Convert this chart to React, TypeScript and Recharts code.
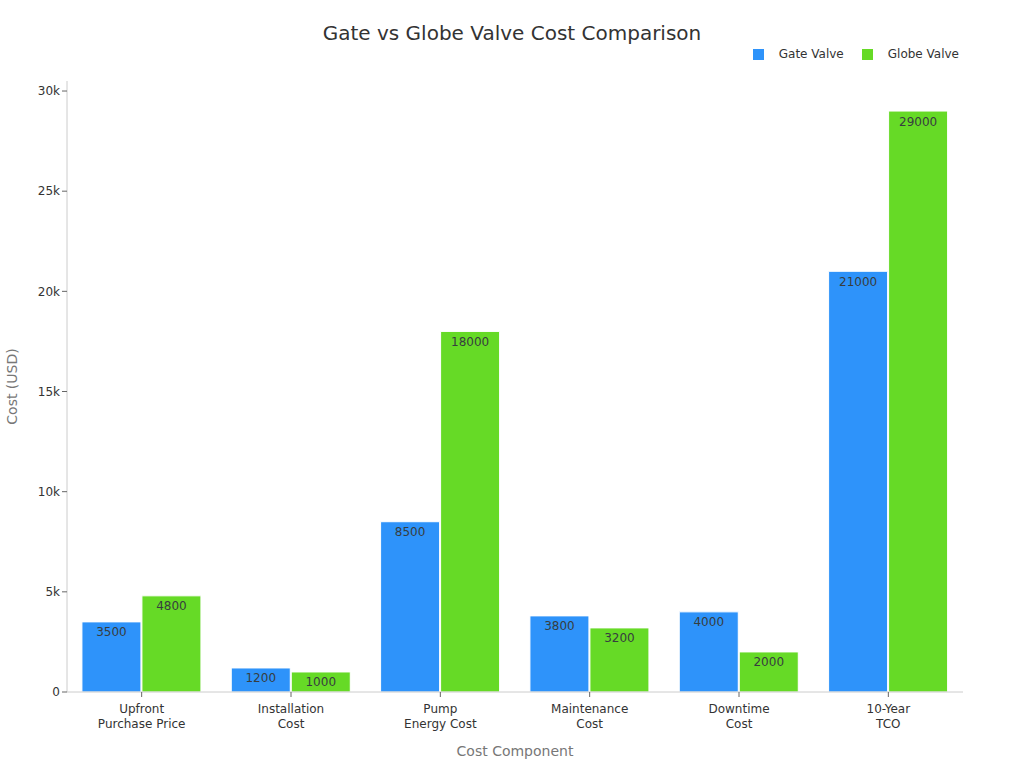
import React from 'react';
import { BarChart, Bar, XAxis, YAxis, Legend, LabelList, Label } from 'recharts';

const categories = ['Upfront\nPurchase Price', 'Installation\nCost', 'Pump\nEnergy Cost', 'Maintenance\nCost', 'Downtime\nCost', '10-Year\nTCO'];
const gateValve = [3500, 1200, 8500, 3800, 4000, 21000];
const globeValve = [4800, 1000, 18000, 3200, 2000, 29000];
const yTicks = [0, 5000, 10000, 15000, 20000, 25000, 30000];

const data = categories.map((c, i) => ({ name: c, gate: gateValve[i], globe: globeValve[i] }));

const FONT = '"DejaVu Sans", sans-serif';

const XTick = (props: any) => {
  const { x, y, payload } = props;
  const lines = String(payload.value).split('\n');
  return (
    <g transform={`translate(${x},${y})`}>
      <text textAnchor="middle" fill="#333" fontSize={12} fontFamily={FONT}>
        {lines.map((l, i) => (
          <tspan key={i} x={0} dy={i === 0 ? 14 : 15}>{l}</tspan>
        ))}
      </text>
    </g>
  );
};

export default function App() {
  return (
    <div style={{ position: 'absolute', left: 0, top: 0, width: 1024, height: 768, background: '#fff', fontFamily: FONT }}>
      <div style={{ position: 'absolute', top: 21, left: 0, width: 1024, textAlign: 'center', fontSize: 20, color: '#333', fontFamily: FONT }}>
        Gate vs Globe Valve Cost Comparison
      </div>
      <BarChart
        width={1024}
        height={768}
        data={data}
        margin={{ top: 67, right: 61, bottom: 0, left: 0 }}
        barCategoryGap="10%"
        barGap={1}
      >
        <XAxis
          dataKey="name"
          tick={<XTick />}
          interval={0}
          height={76}
          stroke="#ccc"
          tickLine={{ stroke: '#666' }}
          tickSize={5}
        >
          <Label value="Cost Component" position="insideBottom" offset={12} fill="#777" fontSize={14} fontFamily={FONT} />
        </XAxis>
        <YAxis
          width={67}
          domain={[0, 30500]}
          ticks={yTicks}
          allowDataOverflow
          tickFormatter={(v: number) => (v === 0 ? '0' : `${v / 1000}k`)}
          tick={{ fill: '#333', fontSize: 12, fontFamily: FONT }}
          stroke="#ccc"
          tickLine={{ stroke: '#666' }}
          tickSize={5}
        >
          <Label value="Cost (USD)" angle={-90} position="insideLeft" offset={12} fill="#777" fontSize={14} fontFamily={FONT} style={{ textAnchor: 'middle' }} />
        </YAxis>
        <Legend
          verticalAlign="top"
          align="right"
          iconType="square"
          iconSize={11}
          wrapperStyle={{ top: 47, right: 47, fontSize: 12, fontFamily: FONT }}
          formatter={(v: string) => <span style={{ color: '#333', marginRight: 8, marginLeft: 11 }}>{v}</span>}
        />
        <Bar dataKey="gate" name="Gate Valve" fill="#2E93FA" stroke="#fff" strokeWidth={1} isAnimationActive={false}>
          <LabelList dataKey="gate" position="insideTop" offset={6} fill="#373d3f" fontSize={12} fontFamily={FONT} />
        </Bar>
        <Bar dataKey="globe" name="Globe Valve" fill="#66DA26" stroke="#fff" strokeWidth={1} isAnimationActive={false}>
          <LabelList dataKey="globe" position="insideTop" offset={6} fill="#373d3f" fontSize={12} fontFamily={FONT} />
        </Bar>
      </BarChart>
    </div>
  );
}
